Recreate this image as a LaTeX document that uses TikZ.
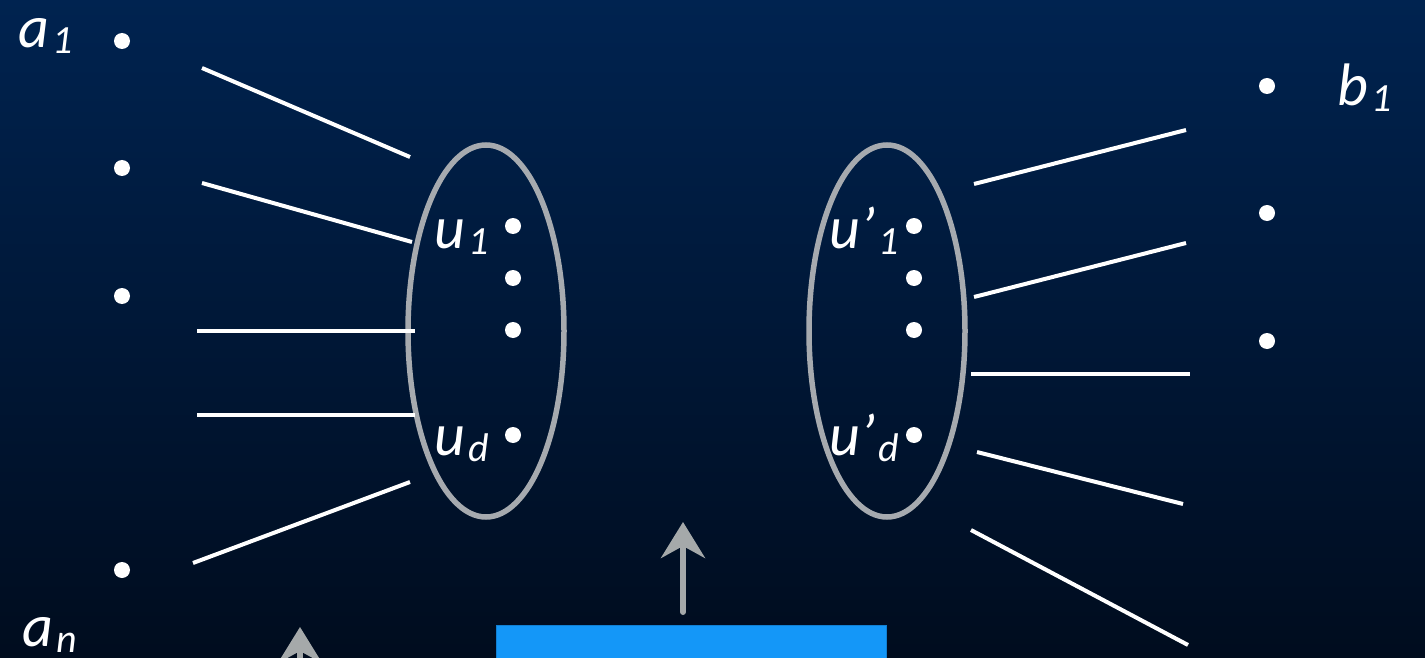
\documentclass[tikz,border=0pt]{standalone}
\usepackage{fontspec}
\setmainfont{Carlito}
\usetikzlibrary{arrows.meta,shapes.geometric}
\definecolor{bgtop}{RGB}{0,35,80}
\definecolor{bgbot}{RGB}{0,12,30}
\definecolor{ringgray}{RGB}{166,170,175}
\definecolor{arrgray}{RGB}{165,169,170}
\definecolor{boxblue}{RGB}{20,151,248}
\newcommand{\lbl}[2]{{\fontsize{60}{60}\selectfont\itshape #1\hspace{3pt}\raisebox{-6pt}{\fontsize{40}{40}\selectfont #2}}}
\tikzset{
  dot/.style={circle,fill=white,inner sep=0pt,minimum size=16pt},
  wire/.style={draw=white,line width=4pt},
  ring/.style={draw=ringgray,line width=5.5pt},
  upar/.style={draw=arrgray,fill=arrgray,line width=6pt,line cap=round,-{Stealth[length=36pt,width=44pt,inset=12pt]}},
  lab/.style={text=white,inner sep=0pt,anchor=base}
}
\begin{document}
\begin{tikzpicture}[x=1pt,y=-1pt]
\useasboundingbox (0,0) rectangle (1425,658);
\clip (0,0) rectangle (1425,658);
\shade[top color=bgtop,bottom color=bgbot] (0,0) rectangle (1425,658);
% left side dots
\node[dot] (a1) at (122,41) {};
\node[dot] (a2) at (122,168) {};
\node[dot] (a3) at (122,296) {};
\node[dot] (an) at (122,570) {};
\node[lab] (la1) at (46,48) {\lbl{a}{1}};
\node[lab] (lan) at (50,646) {\lbl{a}{n}};
% right side dots
\node[dot] (b1) at (1267,86) {};
\node[dot] (b2) at (1267,213) {};
\node[dot] (b3) at (1267,341) {};
\node[lab] (lb1) at (1365,106) {\lbl{b}{1}};
% ellipses
\node[ring,ellipse,minimum width=156pt,minimum height=372pt,inner sep=0pt] (E1) at (486,331) {};
\node[ring,ellipse,minimum width=156pt,minimum height=372pt,inner sep=0pt] (E2) at (887,331) {};
% dots in left ellipse
\node[dot] (u1) at (513,226) {};
\node[dot] (u2) at (513,278) {};
\node[dot] (u3) at (513,330) {};
\node[dot] (ud) at (513,435) {};
\node[lab] (lu1) at (462,248) {\lbl{u}{1}};
\node[lab] (lud) at (462,455) {\lbl{u}{d}};
% dots in right ellipse
\node[dot] (v1) at (914,226) {};
\node[dot] (v2) at (914,278) {};
\node[dot] (v3) at (914,330) {};
\node[dot] (vd) at (914,435) {};
\node[lab] (lv1) at (864,248) {\lbl{u’}{1}};
\node[lab] (lvd) at (864,455) {\lbl{u’}{d}};
% left wires
\coordinate (l1s) at (202,68);  \coordinate (l1e) at (410,157);
\coordinate (l2s) at (202,183); \coordinate (l2e) at (412,242);
\coordinate (l3s) at (197,331); \coordinate (l3e) at (415,331);
\coordinate (l4s) at (197,415); \coordinate (l4e) at (415,415);
\coordinate (l5s) at (193,563); \coordinate (l5e) at (410,482);
\draw[wire] (l1s) -- (l1e);
\draw[wire] (l2s) -- (l2e);
\draw[wire] (l3s) -- (l3e);
\draw[wire] (l4s) -- (l4e);
\draw[wire] (l5s) -- (l5e);
% right wires
\coordinate (r1s) at (974,184); \coordinate (r1e) at (1186,130);
\coordinate (r2s) at (974,297); \coordinate (r2e) at (1186,243);
\coordinate (r3s) at (971,374); \coordinate (r3e) at (1190,374);
\coordinate (r4s) at (977,452); \coordinate (r4e) at (1183,504);
\coordinate (r5s) at (971,530); \coordinate (r5e) at (1188,645);
\draw[wire] (r1s) -- (r1e);
\draw[wire] (r2s) -- (r2e);
\draw[wire] (r3s) -- (r3e);
\draw[wire] (r4s) -- (r4e);
\draw[wire] (r5s) -- (r5e);
% blue box
\node[fill=boxblue,draw=boxblue!85!black,line width=1pt,minimum width=390pt,minimum height=80pt,anchor=north west,inner sep=0pt] (box) at (496,625) {};
% arrows
\coordinate (m1s) at (683,612); \coordinate (m1e) at (683,522);
\draw[upar] (m1s) -- (m1e);
\coordinate (m2s) at (300,720); \coordinate (m2e) at (300,627);
\draw[upar] (m2s) -- (m2e);
\end{tikzpicture}
\end{document}
